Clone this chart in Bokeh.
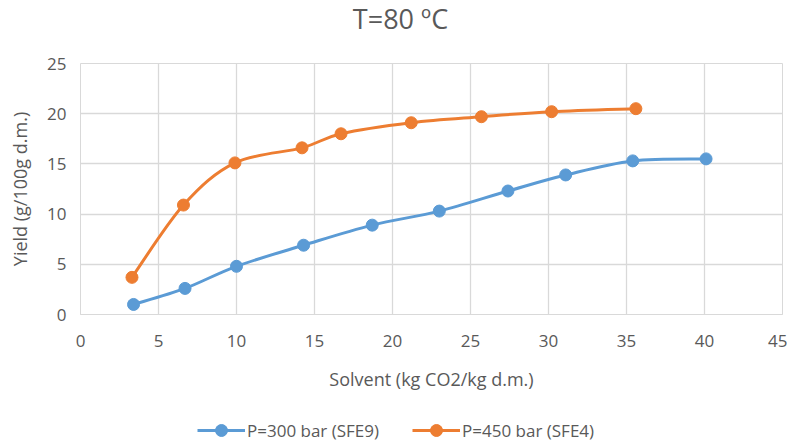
from bokeh.plotting import figure
from bokeh.layouts import column
from bokeh.models import Range1d, FixedTicker, Legend, LegendItem, ColumnDataSource, Label
from bokeh.embed import file_html
from bokeh.resources import INLINE

title = "T=80 ºC"
x_label = "Solvent (kg CO2/kg d.m.)"
y_label = "Yield (g/100g d.m.)"

s1_name = "P=300 bar (SFE9)"
s1_x = [3.4, 6.7, 10.0, 14.3, 18.7, 23.0, 27.4, 31.1, 35.4, 40.1]
s1_y = [1.0, 2.6, 4.8, 6.9, 8.9, 10.3, 12.3, 13.9, 15.3, 15.5]

s2_name = "P=450 bar (SFE4)"
s2_x = [3.3, 6.6, 9.9, 14.2, 16.7, 21.2, 25.7, 30.2, 35.6]
s2_y = [3.7, 10.9, 15.1, 16.6, 18.0, 19.1, 19.7, 20.2, 20.5]

x_ticks = [0, 5, 10, 15, 20, 25, 30, 35, 40, 45]
y_ticks = [0, 5, 10, 15, 20, 25]

FONT = "Open Sans"
TXT = "#595959"
GRID = "#d9d9d9"
COLORS = ["#5B9BD5", "#ED7D31"]

# title strip
tt = figure(width=787, height=45, output_backend="svg", toolbar_location=None,
            x_range=Range1d(0, 1), y_range=Range1d(0, 1),
            min_border=0, outline_line_color=None)
tt.axis.visible = False
tt.grid.visible = False
tt.add_layout(Label(x=320, y=27, x_units="screen", y_units="screen", text=title,
                    text_align="center", text_baseline="middle", text_font=FONT,
                    text_font_size="27px", text_color=TXT))

p = figure(frame_width=702, frame_height=251, output_backend="svg", toolbar_location=None,
           x_range=Range1d(0, 45), y_range=Range1d(0, 25),
           min_border_left=80, min_border_right=5, min_border_top=18, min_border_bottom=93)

p.outline_line_color = GRID
p.xaxis.ticker = FixedTicker(ticks=x_ticks)
p.yaxis.ticker = FixedTicker(ticks=y_ticks)
for ax in (p.xaxis, p.yaxis):
    ax.major_tick_line_color = None
    ax.minor_tick_line_color = None
    ax.major_label_text_font = FONT
    ax.major_label_text_font_size = "17px"
    ax.major_label_text_color = TXT
    ax.axis_label_text_font = FONT
    ax.axis_label_text_font_size = "18px"
    ax.axis_label_text_font_style = "normal"
    ax.axis_label_text_color = TXT
p.xaxis.axis_line_color = GRID
p.yaxis.axis_line_color = None
p.xaxis.axis_label = x_label
p.yaxis.axis_label = y_label
p.xaxis.major_label_standoff = 14
p.yaxis.major_label_standoff = 8
p.xaxis.axis_label_standoff = 17
p.yaxis.axis_label_standoff = 12
p.xgrid.grid_line_color = GRID
p.ygrid.grid_line_color = GRID
p.xgrid.grid_line_width = 1.3
p.ygrid.grid_line_width = 1.3


def smooth_segments(xs, ys):
    n = len(xs)
    d = dict(x0=[], y0=[], x1=[], y1=[], cx0=[], cy0=[], cx1=[], cy1=[])
    for i in range(n - 1):
        i0 = max(i - 1, 0)
        i3 = min(i + 2, n - 1)
        d["x0"].append(xs[i]); d["y0"].append(ys[i])
        d["x1"].append(xs[i + 1]); d["y1"].append(ys[i + 1])
        d["cx0"].append(xs[i] + (xs[i + 1] - xs[i0]) / 6)
        d["cy0"].append(ys[i] + (ys[i + 1] - ys[i0]) / 6)
        d["cx1"].append(xs[i + 1] - (xs[i3] - xs[i]) / 6)
        d["cy1"].append(ys[i + 1] - (ys[i3] - ys[i]) / 6)
    return ColumnDataSource(d)


for xs, ys, col in [(s1_x, s1_y, COLORS[0]), (s2_x, s2_y, COLORS[1])]:
    p.bezier(x0="x0", y0="y0", x1="x1", y1="y1", cx0="cx0", cy0="cy0", cx1="cx1", cy1="cy1",
             source=smooth_segments(xs, ys), line_color=col, line_width=3)
    p.scatter(xs, ys, size=12, fill_color=col, line_color=col)

# legend strip below the chart (its ranges keep the series out of view; only the key shows)
lg = figure(width=787, height=38, output_backend="svg", toolbar_location=None,
            x_range=Range1d(-2, -1), y_range=Range1d(-2, -1),
            min_border=0, outline_line_color=None)
lg.axis.visible = False
lg.grid.visible = False
items = []
for name, xs, ys, col in [(s1_name, s1_x, s1_y, COLORS[0]), (s2_name, s2_x, s2_y, COLORS[1])]:
    ln = lg.line(xs, ys, line_color=col, line_width=3)
    sc = lg.scatter(xs, ys, size=12, fill_color=col, line_color=col)
    items.append(LegendItem(label=name, renderers=[ln, sc]))
legend = Legend(items=items, orientation="horizontal", location=(117, 0),
                label_text_font=FONT, label_text_font_size="17px", label_text_color=TXT,
                glyph_width=48, glyph_height=30, label_height=20, spacing=33,
                border_line_color=None, background_fill_alpha=0,
                margin=0, padding=0, label_standoff=2)
lg.add_layout(legend, "center")

layout = column(tt, p, lg, spacing=0)
open("out.html", "w").write(file_html(layout, INLINE))
